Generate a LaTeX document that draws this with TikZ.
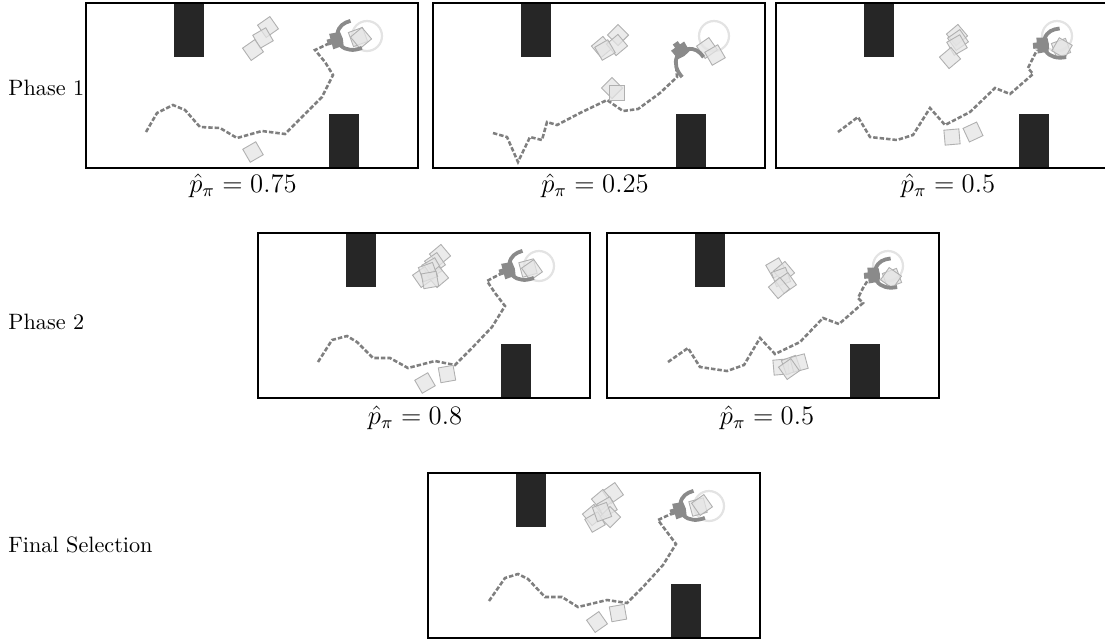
\documentclass[tikz,border=0pt]{standalone}
\usepackage{amsmath}
\usepackage{tikz}
\usetikzlibrary{positioning}
\usepackage{xcolor}
\definecolor{wall}{HTML}{262626}
\definecolor{trail}{HTML}{7F7F7F}
\definecolor{claw}{HTML}{8A8A8A}
\definecolor{ring}{HTML}{E3E3E3}
\definecolor{cubefill}{HTML}{E4E4E4}
\definecolor{cubeedge}{HTML}{B0B0B0}
\tikzset{arena/.style={draw=black,line width=1.1pt},obstacle/.style={fill=wall},goal/.style={draw=ring,line width=1pt},traj/.style={draw=trail,line width=1.15pt,dash pattern=on 2pt off .9pt},cube/.style={fill=cubefill,fill opacity=.75,draw=cubeedge,line width=.4pt},palm/.style={fill=claw},finger/.style={draw=claw,line width=1.7pt},phase/.style={anchor=west,inner sep=0pt,font=\normalsize},score/.style={font=\large}}
% pushed block and the two-finger gripper (opening towards +x)
\tikzset{crate/.pic={\draw[cube] (-7.5,-7.5) rectangle (7.5,7.5);},gripper/.pic={\fill[palm] (-10,-3) -- (-6,-3) -- (-6,-8) -- (5,-7) -- (6,0) -- (5,7) -- (-6,8) -- (-6,3) -- (-10,3) -- cycle;
\draw[finger] (2,-6) .. controls (5,-13) and (11,-15) .. (18,-15);\draw[finger] (2,6) .. controls (6,13) and (14,15) .. (22,14);}}
% walls, goal ring and frame of one arena
\newcommand{\walls}{\fill[obstacle] (88,0) rectangle (118,54);\fill[obstacle] (243,111) rectangle (273,165);\draw[goal] (281,33) circle[radius=6.75pt];}
\newcommand{\frm}{\draw[arena] (0,0) rectangle (332,165);}

\begin{document}
\begin{tikzpicture}[x=.45pt,y=-.45pt]
\useasboundingbox (0,0) rectangle (1105,638);
\node[phase] (ph1) at (8,88) {Phase 1};
\node[phase] (ph2) at (8,322) {Phase 2};
\node[phase] (ph3) at (8,545) {Final Selection};

\begin{scope}[shift={(86,3)}]
\walls
\draw[traj] (60,129) -- (71,110) -- (87,102) -- (99,107) -- (114,124) -- (134,125) -- (151,135) -- (176,128) -- (199,131) -- (216,114) -- (236,94) -- (247,72) -- (239,59) -- (229,47) -- (244,40);
\foreach \x/\y/\a in {182/24/35,177/35/30,167/47/35,272/34/20,275/35/40,167/149/30} \pic[rotate=\a] at (\x,\y) {crate};
\pic[rotate=15] at (251,37) {gripper};
\frm
\node[score] (s1) at (157,183) {$\hat p_\pi = 0.75$};
\end{scope}

\begin{scope}[shift={(433,3)}]
\walls
\draw[traj] (60,130) -- (74,134) -- (85,159) -- (97,134) -- (109,137) -- (114,119) -- (124,122) -- (147,110) -- (174,97) -- (190,108) -- (205,106) -- (227,90) -- (244,74) -- (243,62) -- (244,52);
\foreach \x/\y/\a in {169/44/40,185/32/45,184/42/40,172/47/30,179/85/45,184/90/0,274/45/35,282/52/30} \pic[rotate=\a] at (\x,\y) {crate};
\pic[rotate=-55] at (248,48) {gripper};
\frm
\node[score] (s2) at (162,183) {$\hat p_\pi = 0.25$};
\end{scope}

\begin{scope}[shift={(776,3)}]
\walls
\draw[traj] (62,129) -- (82,114) -- (94,134) -- (121,137) -- (137,132) -- (154,105) -- (169,122) -- (194,109) -- (219,85) -- (234,91) -- (257,71) -- (252,65) -- (257,55) -- (261,47);
\foreach \x/\y/\a in {181/32/40,182/37/35,181/42/30,174/55/40,285/45/20,286/45/60,176/134/5,197/129/25} \pic[rotate=\a] at (\x,\y) {crate};
\pic[rotate=5] at (267,42) {gripper};
\frm
\node[score] (s3) at (172,183) {$\hat p_\pi = 0.5$};
\end{scope}

\begin{scope}[shift={(258,233)}]
\walls
\draw[traj] (60,129) -- (74,107) -- (89,103) -- (99,109) -- (115,125) -- (132,125) -- (150,135) -- (177,128) -- (197,132) -- (214,115) -- (234,94) -- (247,73) -- (237,60) -- (229,48) -- (244,40);
\foreach \x/\y/\a in {182/22/40,177/30/35,174/35/30,165/44/35,180/44/40,170/39/20,172/47/10,270/35/15,274/37/35,167/150/30,189/141/10} \pic[rotate=\a] at (\x,\y) {crate};
\pic[rotate=15] at (251,37) {gripper};
\frm
\node[score] (s4) at (157,185) {$\hat p_\pi = 0.8$};
\end{scope}

\begin{scope}[shift={(607,233)}]
\walls
\draw[traj] (61,129) -- (81,115) -- (93,134) -- (120,138) -- (137,132) -- (153,105) -- (168,121) -- (193,109) -- (216,85) -- (232,91) -- (256,70) -- (251,65) -- (256,55) -- (261,47);
\foreach \x/\y/\a in {169/35/30,177/39/40,174/44/20,179/50/35,172/55/40,285/45/20,284/45/55,174/134/5,184/132/20,192/130/15,182/136/35} \pic[rotate=\a] at (\x,\y) {crate};
\pic[rotate=5] at (267,42) {gripper};
\frm
\node[score] (s5) at (160,185) {$\hat p_\pi = 0.5$};
\end{scope}

\begin{scope}[shift={(428,473)}]
\walls
\draw[traj] (61,128) -- (77,105) -- (90,101) -- (100,106) -- (117,124) -- (134,124) -- (150,134) -- (179,127) -- (199,130) -- (215,114) -- (235,92) -- (248,71) -- (239,59) -- (230,47) -- (245,40);
\foreach \x/\y/\a in {185/20/35,174/27/40,179/34/30,165/42/40,182/44/45,167/49/30,174/39/20,270/34/15,274/32/35,169/149/35,190/140/10} \pic[rotate=\a] at (\x,\y) {crate};
\pic[rotate=15] at (252,37) {gripper};
\frm
\end{scope}
\end{tikzpicture}
\end{document}
